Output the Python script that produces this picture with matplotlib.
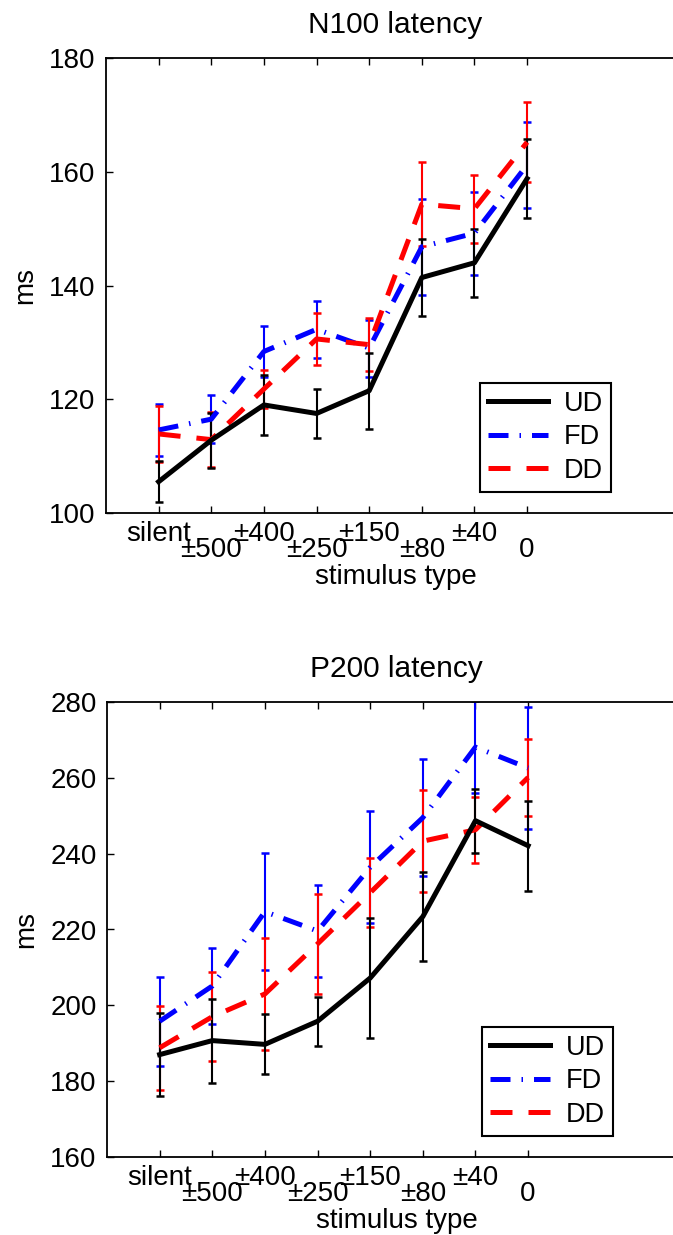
import matplotlib
matplotlib.use('Agg')
import matplotlib.pyplot as plt
from matplotlib.lines import Line2D

plt.rcParams['font.family'] = ['Liberation Sans', 'DejaVu Sans']

stim_labels = ['silent', '±500', '±400', '±250', '±150', '±80', '±40', '0']
x_pos = [1, 2, 3, 4, 5, 6, 7, 8]

# N100 latency (ms): means and error half-widths
n100_ud = [105.5, 112.8, 119.0, 117.5, 121.5, 141.4, 144.0, 158.8]
n100_ud_err = [3.6, 4.8, 5.2, 4.3, 6.7, 6.8, 6.0, 6.9]
n100_fd = [114.6, 116.5, 128.4, 132.3, 129.0, 146.8, 149.2, 161.2]
n100_fd_err = [4.6, 4.2, 4.4, 5.0, 5.0, 8.4, 7.3, 7.5]
n100_dd = [113.9, 112.9, 121.8, 130.6, 129.6, 154.3, 153.5, 165.2]
n100_dd_err = [4.9, 4.8, 3.3, 4.6, 4.6, 7.4, 6.0, 7.0]

# P200 latency (ms)
p200_ud = [187.0, 190.7, 189.7, 195.8, 207.2, 223.4, 248.7, 242.1]
p200_ud_err = [11.0, 11.1, 7.9, 6.4, 15.8, 11.8, 8.4, 11.9]
p200_fd = [195.8, 205.1, 224.7, 219.6, 236.4, 249.5, 268.1, 262.6]
p200_fd_err = [11.8, 9.9, 15.4, 12.2, 14.8, 15.5, 12.1, 16.1]
p200_dd = [188.8, 197.0, 203.0, 216.2, 229.7, 243.3, 246.3, 260.1]
p200_dd_err = [11.0, 11.8, 14.8, 13.1, 9.1, 13.4, 8.7, 10.1]

W, H = 673, 1235
fig = plt.figure(figsize=(W / 100, H / 100), dpi=100)

ax1 = fig.add_axes([106 / W, (H - 513) / H, 579 / W, 455 / H])
ax2 = fig.add_axes([107 / W, (H - 1157) / H, 579 / W, 455 / H])

LW = 3.6
FD_DASH = (4.0, 2.2, 0.3, 2.2)
DD_DASH = (4.4, 3.2)


def draw_panel(ax, title, ud, ud_err, fd, fd_err, dd, dd_err, ylim, yticks, legend_anchor):
    ebkw = dict(elinewidth=1.5, capsize=2.6, capthick=1.8)
    ax.errorbar(x_pos, fd, yerr=fd_err, color='blue', lw=LW, dashes=FD_DASH, **ebkw)
    ax.errorbar(x_pos, dd, yerr=dd_err, color='red', lw=LW, dashes=DD_DASH, **ebkw)
    ax.errorbar(x_pos, ud, yerr=ud_err, color='black', lw=LW, ls='-', **ebkw)

    ax.set_xlim(0, 11)
    ax.set_ylim(*ylim)
    ax.set_yticks(yticks)
    ax.set_xticks(x_pos)
    ax.set_xticklabels(stim_labels)
    ax.spines['right'].set_visible(False)
    ax.tick_params(direction='in', length=5, width=1, labelsize=20,
                   top=True, right=False)
    ax.tick_params(axis='y', pad=7.5)
    for i, tick in enumerate(ax.xaxis.get_major_ticks()):
        tick.set_pad(6 if i % 2 == 0 else 17.5)
    for s in ax.spines.values():
        s.set_linewidth(1.3)

    ax.set_xlabel('stimulus type', fontsize=20, va='center')
    ax.xaxis.set_label_coords(0.5, -0.141)
    ax.set_ylabel('ms', fontsize=20, va='center')
    ax.yaxis.set_label_coords(-0.139, 0.5)
    ax.text(0.5, 1.055, title, transform=ax.transAxes, fontsize=21.5,
            ha='center', va='baseline')

    handles = [Line2D([], [], color='black', lw=LW, ls='-'),
               Line2D([], [], color='blue', lw=LW, dashes=FD_DASH),
               Line2D([], [], color='red', lw=LW, dashes=DD_DASH)]
    leg = ax.legend(handles, ['UD', 'FD', 'DD'],
                    loc='lower right', bbox_to_anchor=legend_anchor,
                    bbox_transform=fig.transFigure, fontsize=19.5,
                    fancybox=False, framealpha=1, edgecolor='black',
                    handlelength=2.2, handletextpad=0.6, labelspacing=0.28,
                    borderpad=0.3, borderaxespad=0)
    leg.get_frame().set_linewidth(1.5)


draw_panel(ax1, 'N100 latency', n100_ud, n100_ud_err, n100_fd, n100_fd_err,
           n100_dd, n100_dd_err, (100, 180), [100, 120, 140, 160, 180],
           (611 / W, (H - 492) / H))
draw_panel(ax2, 'P200 latency', p200_ud, p200_ud_err, p200_fd, p200_fd_err,
           p200_dd, p200_dd_err, (160, 280), [160, 180, 200, 220, 240, 260, 280],
           (613 / W, (H - 1136) / H))

fig.savefig('out.png', dpi=100)
